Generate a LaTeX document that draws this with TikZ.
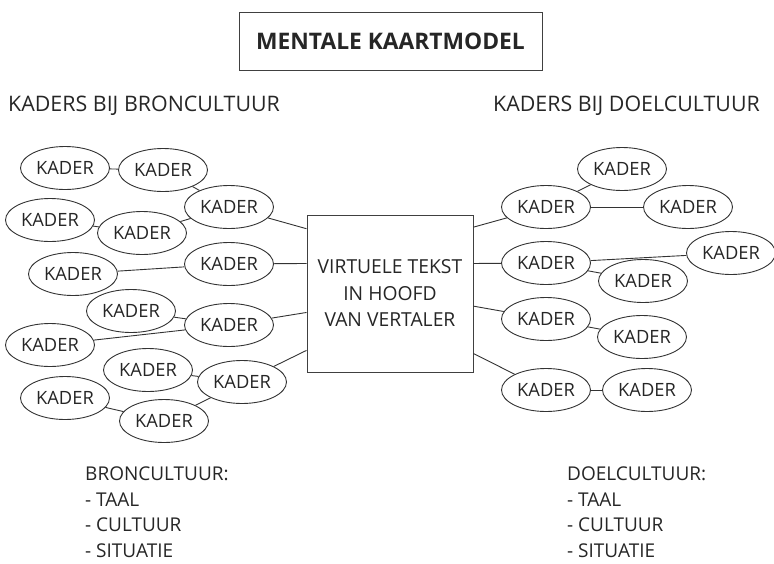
\documentclass[tikz,border=0pt]{standalone}
\usepackage{fontspec}
\setmainfont{Open Sans}
\usetikzlibrary{calc,shapes.geometric}

\begin{document}
\begin{tikzpicture}[x=1pt,y=-1pt,
 every node/.style={text=black!85,align=center},
 kader/.style={ellipse,draw=black!80,line width=0.9pt,minimum width=89pt,minimum height=43pt,inner sep=0pt,font=\fontsize{18.3}{20}\selectfont},
 frame/.style={draw=black!75,line width=1pt,inner sep=0pt},
 heading/.style={font=\fontsize{21.4}{24}\selectfont,inner sep=0pt},
 culture/.style={font=\fontsize{19}{25.5}\selectfont,align=left,anchor=north west,inner sep=0pt},
 link/.style={draw=black!80,line width=0.9pt}]
\useasboundingbox (0,0) rectangle (774,563);
\node[frame,minimum width=303pt,minimum height=58pt,font=\fontsize{22.8}{26}\selectfont\bfseries] (title) at (390.5,41) {MENTALE KAARTMODEL};
\node[heading,anchor=west] (bronhead) at (8,106) {KADERS BIJ BRONCULTUUR};
\node[heading,anchor=east] (doelhead) at (760,106) {KADERS BIJ DOELCULTUUR};
\node[frame,minimum width=166pt,minimum height=157pt,font=\fontsize{19.3}{26.5}\selectfont] (virt) at (390,293.5) {VIRTUELE TEKST\\IN HOOFD\\VAN VERTALER};
\node[kader] (bk1) at (65,168) {KADER};
\node[kader] (bk2) at (163,170) {KADER};
\node[kader] (bh1) at (229,207) {KADER};
\node[kader] (bk3) at (50,220) {KADER};
\node[kader] (bk4) at (142,233) {KADER};
\node[kader] (bh2) at (229,264) {KADER};
\node[kader] (bk5) at (73,274) {KADER};
\node[kader] (bk6) at (131,311) {KADER};
\node[kader] (bh3) at (229,325) {KADER};
\node[kader] (bk7) at (50,345) {KADER};
\node[kader] (bk8) at (148,370) {KADER};
\node[kader] (bh4) at (242,382) {KADER};
\node[kader] (bk9) at (65,398) {KADER};
\node[kader] (bk10) at (164,421) {KADER};
\node[kader] (dk1) at (622,169) {KADER};
\node[kader] (dh1) at (546,207) {KADER};
\node[kader] (dk2) at (688,207) {KADER};
\node[kader] (dh2) at (546,263) {KADER};
\node[kader] (dk3) at (731,253) {KADER};
\node[kader] (dk4) at (643,281) {KADER};
\node[kader] (dh3) at (546,319) {KADER};
\node[kader] (dk5) at (642,337) {KADER};
\node[kader] (dh4) at (546,390) {KADER};
\node[kader] (dk6) at (647,390) {KADER};
\node[culture] (bron) at (85,467) {BRONCULTUUR:\\- TAAL\\- CULTUUR\\- SITUATIE};
\node[culture] (doel) at (567,467) {DOELCULTUUR:\\- TAAL\\- CULTUUR\\- SITUATIE};
\draw[link] (bk1) -- (bk2);
\draw[link] (bk2) -- (bh1);
\draw[link] (bk3) -- (bk4);
\draw[link] (bk4) -- (bh1);
\draw[link] (bh1) -- ($(virt.north west)!.09!(virt.south west)$);
\draw[link] (bk5) -- (bh2);
\draw[link] (bh2) -- ($(virt.north west)!.31!(virt.south west)$);
\draw[link] (bk6) -- (bh3);
\draw[link] (bk7) -- (bh3);
\draw[link] (bh3) -- ($(virt.north west)!.62!(virt.south west)$);
\draw[link] (bk8) -- (bh4);
\draw[link] (bk9) -- (bk10);
\draw[link] (bk10) -- (bh4);
\draw[link] (bh4) -- ($(virt.north west)!.86!(virt.south west)$);
\draw[link] (dh1) -- (dk1);
\draw[link] (dh1) -- (dk2);
\draw[link] (dh1) -- ($(virt.north east)!.08!(virt.south east)$);
\draw[link] (dh2) -- (dk3);
\draw[link] (dh2) -- (dk4);
\draw[link] (dh2) -- ($(virt.north east)!.31!(virt.south east)$);
\draw[link] (dh3) -- (dk5);
\draw[link] (dh3) -- ($(virt.north east)!.58!(virt.south east)$);
\draw[link] (dh4) -- (dk6);
\draw[link] (dh4) -- ($(virt.north east)!.88!(virt.south east)$);
\end{tikzpicture}
\end{document}
